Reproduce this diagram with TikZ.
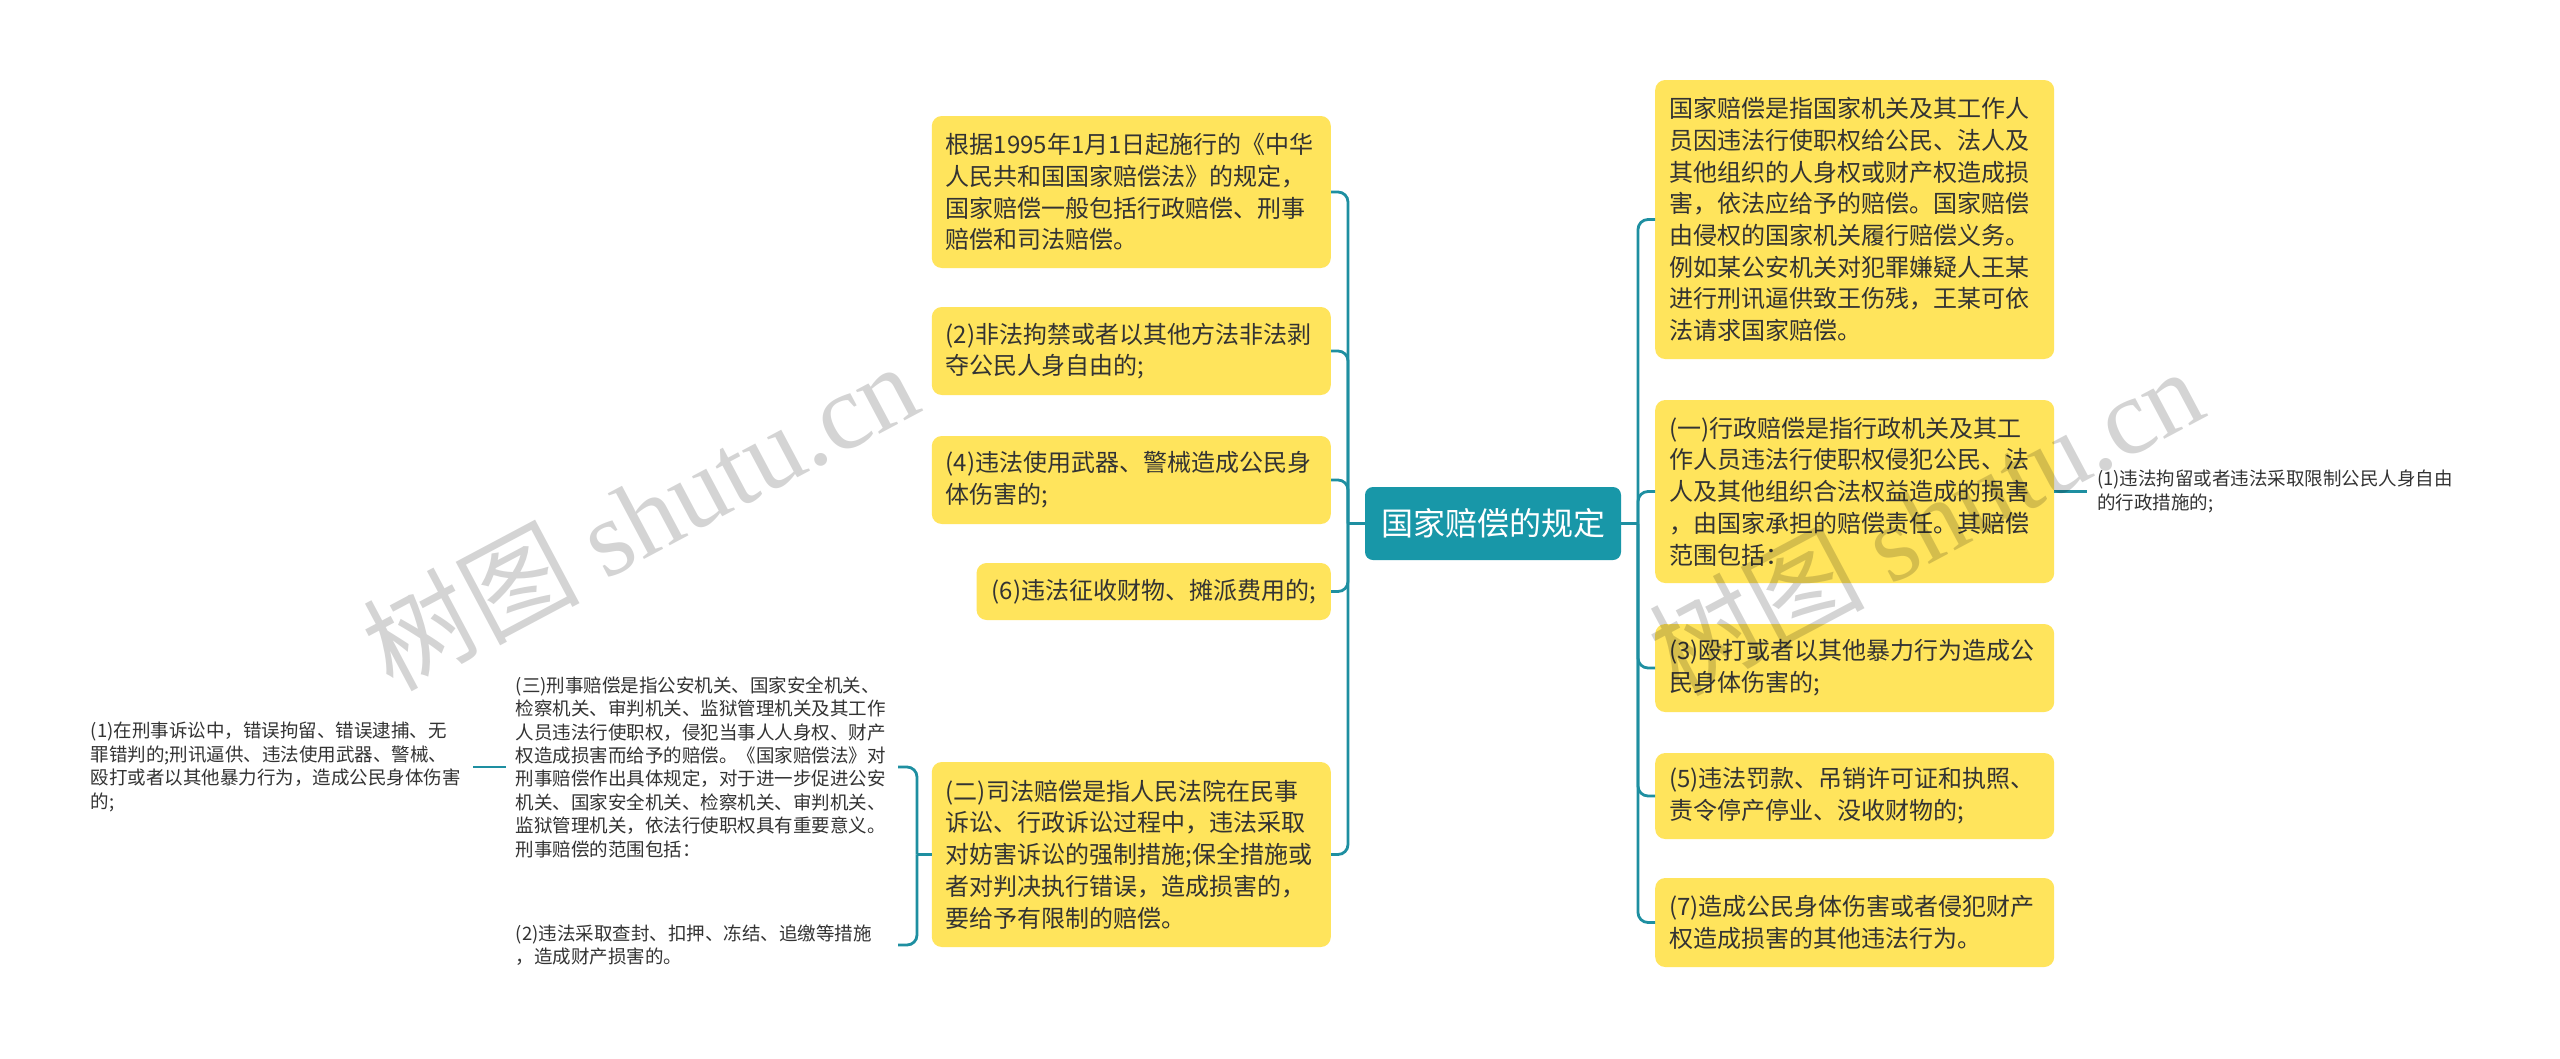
\documentclass[tikz,border=0pt]{standalone}
\usepackage{fontspec}
\setmainfont{Noto Sans CJK SC}
\newfontfamily\cjk{Noto Sans CJK SC}
\newfontfamily\wmserif{Liberation Serif}
\definecolor{rootteal}{RGB}{24,151,168}
\definecolor{linkteal}{RGB}{30,143,161}
\definecolor{leafyellow}{RGB}{255,228,92}
\definecolor{inkgray}{RGB}{51,51,51}

\begin{document}
\begin{tikzpicture}[x=1pt,y=-1pt,
  root node/.style={fill=rootteal,rounded corners=8pt,text=white,font=\cjk\fontsize{32}{38}\selectfont,minimum width=256pt,minimum height=73pt,inner sep=0pt},
  box/.style={fill=leafyellow,rounded corners=10pt,text=inkgray,font=\cjk\fontsize{24}{31.7}\selectfont,align=left,inner xsep=14pt,inner ysep=4pt},
  wide box/.style={box,text width=371pt},
  note/.style={text=inkgray,font=\cjk\fontsize{18.5}{23.4}\selectfont,align=left,text width=372pt,inner xsep=10pt,inner ysep=2pt},
  link/.style={draw=linkteal,line width=2.8pt},
  branch/.style={link,rounded corners=10pt,to path={|- (\tikztotarget) \tikztonodes}},
  watermark/.style={text=black,text opacity=0.17,font=\cjk\fontsize{108}{108}\selectfont,rotate=28,inner sep=0pt}]

  \useasboundingbox[fill=white] (0,0) rectangle (2560,1058);

  \node[root node] (root) at (1493,523.5) {国家赔偿的规定};

  % left side
  \node[wide box,anchor=east,minimum height=152pt] (L1) at (1331,192) {根据1995年1月1日起施行的《中华\\人民共和国国家赔偿法》的规定，\\国家赔偿一般包括行政赔偿、刑事\\赔偿和司法赔偿。};
  \node[wide box,anchor=east,minimum height=88pt] (L2) at (1331,351) {(2)非法拘禁或者以其他方法非法剥\\夺公民人身自由的;};
  \node[wide box,anchor=east,minimum height=88pt] (L3) at (1331,480) {(4)违法使用武器、警械造成公民身\\体伤害的;};
  \node[box,anchor=east,minimum height=57pt,inner xsep=15pt] (L4) at (1331,591.5) {(6)违法征收财物、摊派费用的;};
  \node[wide box,anchor=east,minimum height=185pt] (L5) at (1331,854.5) {(二)司法赔偿是指人民法院在民事\\诉讼、行政诉讼过程中，违法采取\\对妨害诉讼的强制措施;保全措施或\\者对判决执行错误，造成损害的，\\要给予有限制的赔偿。};

  \node[note,anchor=east] (C1) at (898,767) {(三)刑事赔偿是指公安机关、国家安全机关、\\检察机关、审判机关、监狱管理机关及其工作\\人员违法行使职权，侵犯当事人人身权、财产\\权造成损害而给予的赔偿。《国家赔偿法》对\\刑事赔偿作出具体规定，对于进一步促进公安\\机关、国家安全机关、检察机关、审判机关、\\监狱管理机关，依法行使职权具有重要意义。\\刑事赔偿的范围包括：};
  \node[note,anchor=east] (C2) at (898,945) {(2)违法采取查封、扣押、冻结、追缴等措施\\，造成财产损害的。};
  \node[note,anchor=east] (CC1) at (473,767) {(1)在刑事诉讼中，错误拘留、错误逮捕、无\\罪错判的;刑讯逼供、违法使用武器、警械、\\殴打或者以其他暴力行为，造成公民身体伤害\\的;};

  % right side
  \node[wide box,anchor=west,minimum height=279pt] (R1) at (1655,219.5) {国家赔偿是指国家机关及其工作人\\员因违法行使职权给公民、法人及\\其他组织的人身权或财产权造成损\\害，依法应给予的赔偿。国家赔偿\\由侵权的国家机关履行赔偿义务。\\例如某公安机关对犯罪嫌疑人王某\\进行刑讯逼供致王伤残，王某可依\\法请求国家赔偿。};
  \node[wide box,anchor=west,minimum height=183pt] (R2) at (1655,491.5) {(一)行政赔偿是指行政机关及其工\\作人员违法行使职权侵犯公民、法\\人及其他组织合法权益造成的损害\\，由国家承担的赔偿责任。其赔偿\\范围包括：};
  \node[wide box,anchor=west,minimum height=88pt] (R3) at (1655,668) {(3)殴打或者以其他暴力行为造成公\\民身体伤害的;};
  \node[wide box,anchor=west,minimum height=86pt] (R4) at (1655,796) {(5)违法罚款、吊销许可证和执照、\\责令停产停业、没收财物的;};
  \node[wide box,anchor=west,minimum height=89pt] (R5) at (1655,922.5) {(7)造成公民身体伤害或者侵犯财产\\权造成损害的其他违法行为。};

  \node[note,anchor=west] (N1) at (2087,491.5) {(1)违法拘留或者违法采取限制公民人身自由\\的行政措施的;};

  % connectors
  \coordinate (lhub) at (1348,523.5);
  \coordinate (rhub) at (1638,523.5);
  \coordinate (l5hub) at (917,854.5);

  \draw[link] (root.west) -- (lhub);
  \draw[link] (root.east) -- (rhub);
  \path[branch]
   (lhub) edge (L1.east) edge (L2.east) edge (L3.east) edge (L4.east) edge (L5.east)
   (rhub) edge (R1.west) edge (R2.west) edge (R3.west) edge (R4.west) edge (R5.west)
   (l5hub) edge (C1.east) edge (C2.east);
  \draw[link] (L5.west) -- (l5hub);
  \draw[link] (C1.west) -- (CC1.east);
  \draw[link] (R2.east) -- (N1.west);

  % watermark
  \node[watermark] (wm1) at (640,515) {树图 {\wmserif shutu.cn}};
  \node[watermark] (wm2) at (1925,520) {树图 {\wmserif shutu.cn}};
\end{tikzpicture}
\end{document}
